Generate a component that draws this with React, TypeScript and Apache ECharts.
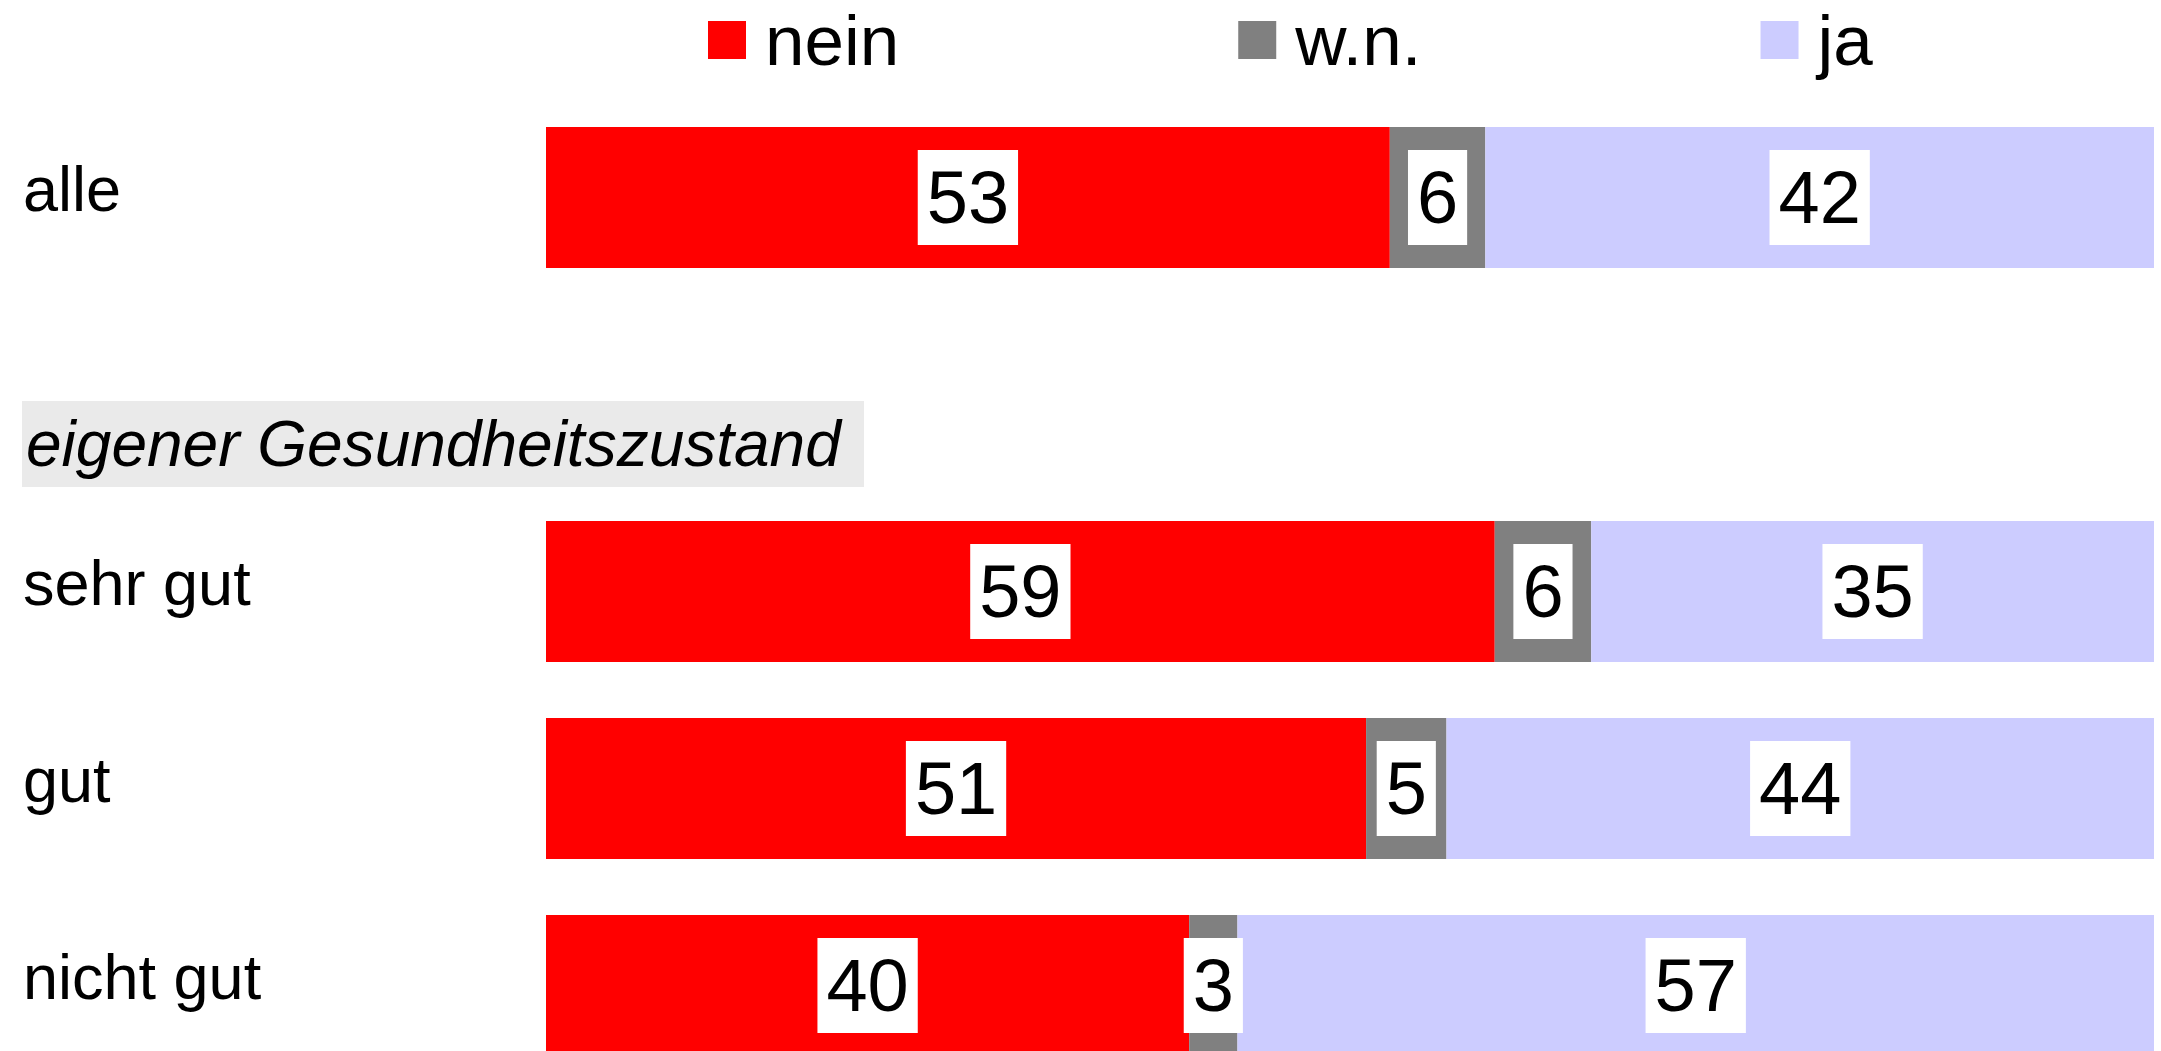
import React, { useEffect, useRef } from "react";
import * as echarts from "echarts";

const categories = ["alle", "", "sehr gut", "gut", "nicht gut"];
const nein = [53, null, 59, 51, 40];
const wn = [6, null, 6, 5, 3];
const ja = [42, null, 35, 44, 57];
const seriesNames = ["nein", "w.n.", "ja"];
const colors = ["#FF0000", "#808080", "#CCCCFF"];
const headerText = "eigener Gesundheitszustand";

const FONT = "'Liberation Sans', Arial, Helvetica, sans-serif";

export default function App() {
  const ref = useRef<HTMLDivElement>(null);

  useEffect(() => {
    if (!ref.current) return;
    const chart = echarts.init(ref.current, undefined, { renderer: "svg" });
    const raw = [nein, wn, ja];
    const totals = categories.map((_, i) =>
      raw.reduce((s, arr) => s + (arr[i] == null ? 0 : (arr[i] as number)), 0)
    );
    const series = raw.map((arr, si) => ({
      name: seriesNames[si],
      type: "bar",
      stack: "total",
      barWidth: 141,
      itemStyle: { color: colors[si] },
      data: arr.map((v, i) => (v == null ? "-" : (v / totals[i]) * 100)),
      label: {
        show: true,
        position: "inside",
        formatter: (p: any) => String(arr[p.dataIndex]),
        color: "#000",
        fontFamily: FONT,
        fontSize: 74,
        lineHeight: 75,
        backgroundColor: "#FFFFFF",
        padding: [10, 9],
      },
    }));

    chart.setOption({
      animation: false,
      backgroundColor: "#FFFFFF",
      textStyle: { fontFamily: FONT },
      legend: {
        data: seriesNames,
        left: 708,
        top: 4,
        padding: 0,
        icon: "rect",
        itemWidth: 38,
        itemHeight: 38,
        itemGap: 339,
        textStyle: {
          fontSize: 71,
          lineHeight: 72,
          color: "#000",
          fontFamily: FONT,
          padding: [0, 0, 0, 14],
        },
        selectedMode: false,
      },
      grid: { left: 546, right: 7, top: 99, height: 985, outerBoundsMode: "none" },
      xAxis: { type: "value", min: 0, max: 100, show: false },
      yAxis: {
        type: "category",
        data: categories,
        inverse: true,
        axisLine: { show: false },
        axisTick: { show: false },
        splitLine: { show: false },
        axisLabel: {
          align: "left",
          verticalAlign: "bottom",
          lineHeight: 18,
          margin: 523,
          fontSize: 63,
          color: "#000",
          fontFamily: FONT,
        },
      },
      graphic: [
        {
          type: "rect",
          shape: { x: 22, y: 401, width: 842, height: 86 },
          style: { fill: "#EAEAEA" },
          silent: true,
        },
        {
          type: "text",
          x: 26,
          y: 444,
          style: {
            text: headerText,
            fontSize: 64,
            fontStyle: "italic",
            fontFamily: FONT,
            fill: "#000",
            verticalAlign: "middle",
            align: "left",
          },
          silent: true,
        },
      ],
      series,
    });
    return () => chart.dispose();
  }, []);

  return (
    <div
      style={{
        position: "fixed",
        left: 0,
        top: 0,
        width: 2161,
        height: 1051,
        overflow: "hidden",
        background: "#fff",
      }}
    >
      <div ref={ref} style={{ width: 2161, height: 1100 }} />
    </div>
  );
}
